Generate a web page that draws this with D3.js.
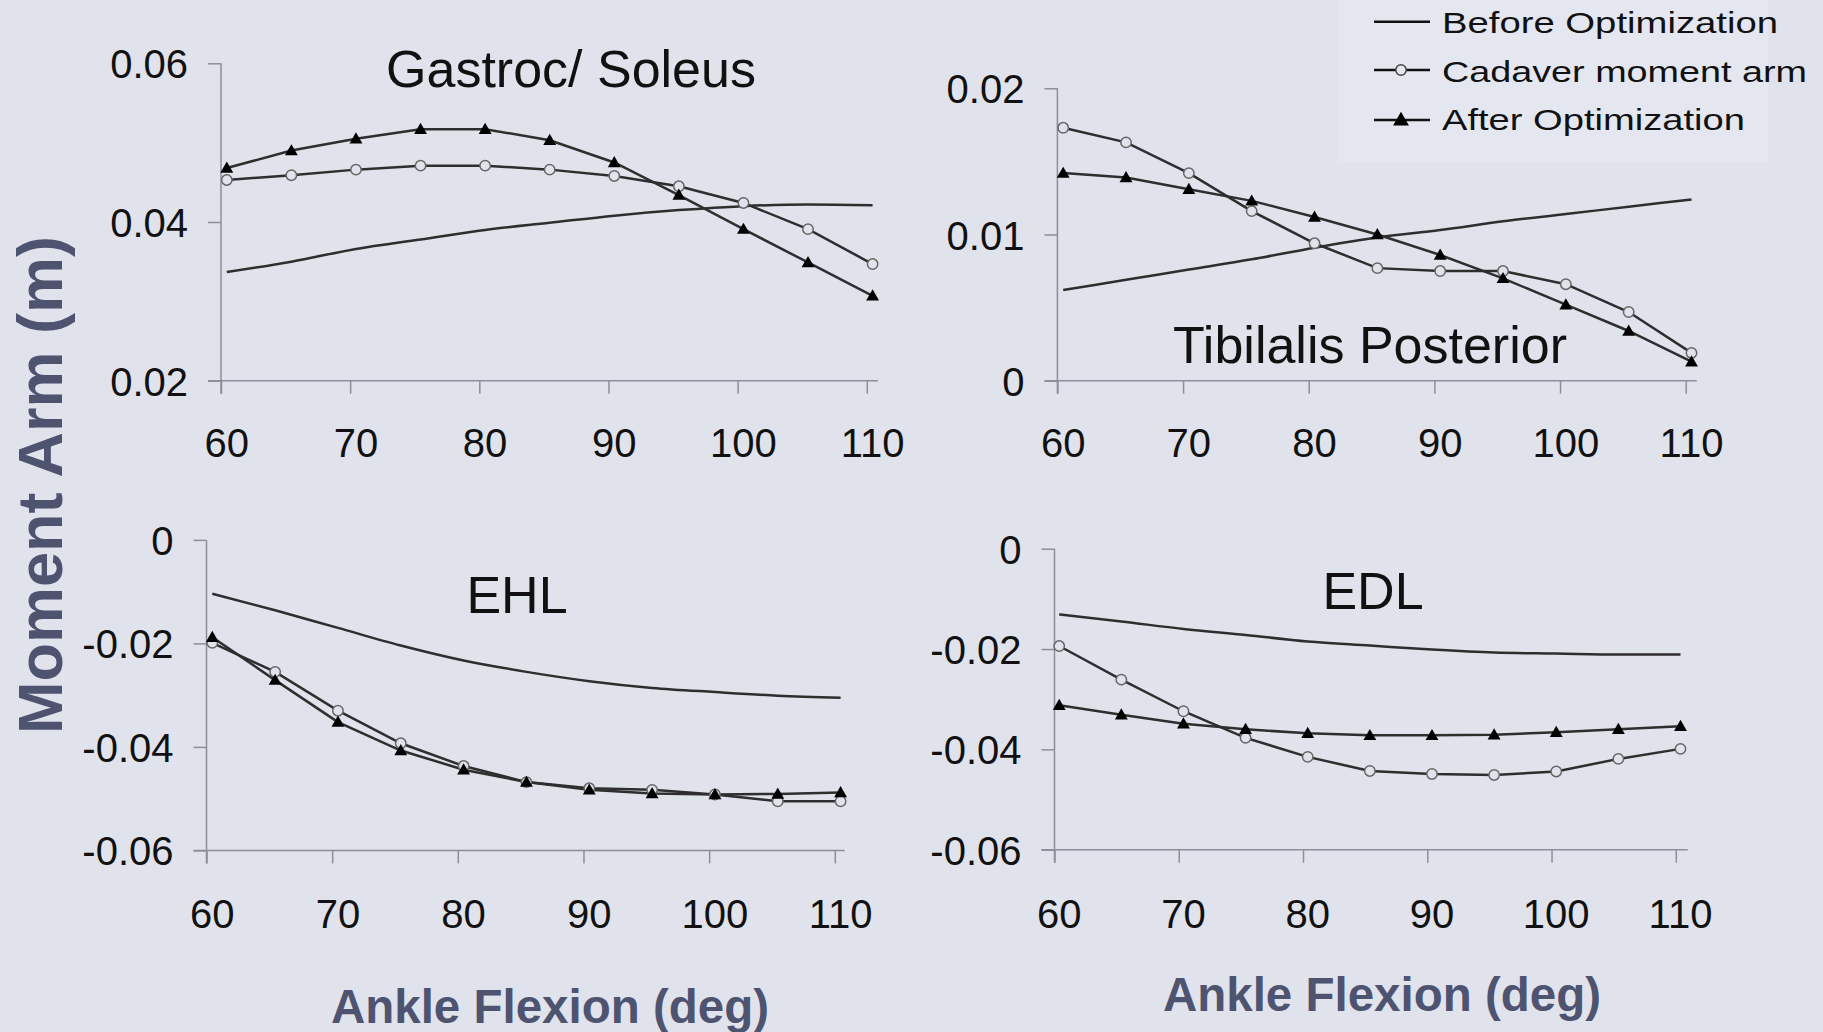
<!DOCTYPE html>
<html><head><meta charset="utf-8">
<script src="https://cdn.jsdelivr.net/npm/d3@7"></script>
<style>
html,body{margin:0;padding:0;background:#e1e3ec;}
svg{display:block;}
text{font-family:"Liberation Sans",Arial,sans-serif;}
</style></head>
<body>
<svg id="chart" width="1823" height="1032"></svg>
<script>
// ---------- data ----------
const angles = [60,65,70,75,80,85,90,95,100,105,110];
const xTickValues = [60,70,80,90,100,110];

const gastrocBefore  = [0.0337,0.0350,0.0366,0.0378,0.0390,0.0399,0.0408,0.0415,0.0420,0.0422,0.0421];
const gastrocCadaver = [0.0453,0.0459,0.0466,0.0471,0.0471,0.0466,0.0458,0.0445,0.0424,0.0391,0.0347];
const gastrocAfter   = [0.0468,0.0490,0.0505,0.0517,0.0517,0.0503,0.0475,0.0434,0.0391,0.0349,0.0307];

const tibBefore  = [0.0062,0.0069,0.0076,0.0083,0.0091,0.0098,0.0103,0.0109,0.0114,0.0119,0.0124];
const tibCadaver = [0.0173,0.0163,0.0142,0.0116,0.0094,0.0077,0.0075,0.0075,0.0066,0.0047,0.0019];
const tibAfter   = [0.0142,0.0139,0.0131,0.0123,0.0112,0.0100,0.0086,0.0070,0.0052,0.0034,0.0013];

const ehlBefore  = [-0.0104,-0.0136,-0.0170,-0.0204,-0.0233,-0.0255,-0.0273,-0.0286,-0.0294,-0.0301,-0.0305];
const ehlCadaver = [-0.0199,-0.0255,-0.0330,-0.0393,-0.0437,-0.0468,-0.0480,-0.0483,-0.0492,-0.0505,-0.0505];
const ehlAfter   = [-0.0188,-0.0271,-0.0352,-0.0407,-0.0444,-0.0468,-0.0483,-0.0490,-0.0492,-0.0491,-0.0488];

const edlBefore  = [-0.0131,-0.0145,-0.0160,-0.0172,-0.0185,-0.0193,-0.0201,-0.0207,-0.0209,-0.0211,-0.0211];
const edlCadaver = [-0.0194,-0.0261,-0.0324,-0.0377,-0.0415,-0.0443,-0.0449,-0.0451,-0.0444,-0.0419,-0.0399];
const edlAfter   = [-0.0312,-0.0331,-0.0349,-0.0360,-0.0368,-0.0372,-0.0372,-0.0371,-0.0366,-0.0360,-0.0354];

const gastrocYTicks = [0.02,0.04,0.06];
const gastrocYLabels = ["0.02","0.04","0.06"];
const tibYTicks = [0,0.01,0.02];
const tibYLabels = ["0","0.01","0.02"];
const extYTicks = [0,-0.02,-0.04,-0.06];
const extYLabels = ["0","-0.02","-0.04","-0.06"];

const legendLabels = ["Before Optimization","Cadaver moment arm","After Optimization"];
const panelTitles = ["Gastroc/ Soleus","Tibilalis Posterior","EHL","EDL"];
const xTitle = "Ankle Flexion (deg)";
const yTitle = "Moment Arm (m)";

// ---------- layout ----------
const panels = [
  {title:panelTitles[0], before:gastrocBefore, cadaver:gastrocCadaver, after:gastrocAfter,
   yDomain:[0.02,0.06], yTicks:gastrocYTicks, yLabels:gastrocYLabels,
   xL:221, xR:866.8, yB:380.7, yT:63.3, off:5.8, titleX:571, titleY:87, labY:457, axisExt:11},
  {title:panelTitles[1], before:tibBefore, cadaver:tibCadaver, after:tibAfter,
   yDomain:[0,0.02], yTicks:tibYTicks, yLabels:tibYLabels,
   xL:1057.4, xR:1685.7, yB:380.7, yT:88.3, off:5.8, titleX:1370, titleY:362.5, labY:457, axisExt:11},
  {title:panelTitles[2], before:ehlBefore, cadaver:ehlCadaver, after:ehlAfter,
   yDomain:[-0.06,0], yTicks:extYTicks, yLabels:extYLabels,
   xL:206.5, xR:834.8, yB:850.4, yT:539.9, off:5.8, titleX:517, titleY:612.5, labY:928, axisExt:10},
  {title:panelTitles[3], before:edlBefore, cadaver:edlCadaver, after:edlAfter,
   yDomain:[-0.06,0], yTicks:extYTicks, yLabels:extYLabels,
   xL:1054.5, xR:1675.8, yB:849.7, yT:548.7, off:4.7, titleX:1373, titleY:608.5, labY:928, axisExt:12}
];

const bg = "#e1e3ec";
const svg = d3.select("#chart");
svg.append("rect").attr("width",1823).attr("height",1032).attr("fill",bg);
// subtle legend panel
svg.append("rect").attr("x",1337).attr("y",0).attr("width",431).attr("height",163).attr("fill","#e5e7f0");

const axisColor = "#8c8f99";
const lineColor = "#2e2e2e";

panels.forEach(p => {
  const g = svg.append("g");
  const xAxisScale = d3.scaleLinear().domain([60,110]).range([p.xL, p.xR]);
  const x = d3.scaleLinear().domain([60,110]).range([p.xL + p.off, p.xR + p.off]);
  const y = d3.scaleLinear().domain(p.yDomain).range([p.yB, p.yT]);

  // x axis
  const xa = g.append("g").attr("transform",`translate(0,${p.yB})`)
    .call(d3.axisBottom(xAxisScale).tickValues(xTickValues).tickSize(13).tickSizeOuter(0).tickFormat(""));
  xa.select(".domain").remove();
  xa.selectAll(".tick line").attr("stroke",axisColor).attr("stroke-width",1.5);
  g.append("line").attr("x1",p.xL-13).attr("x2",p.xR+p.axisExt).attr("y1",p.yB).attr("y2",p.yB)
    .attr("stroke",axisColor).attr("stroke-width",1.5);

  // y axis
  const ya = g.append("g").attr("transform",`translate(${p.xL},0)`)
    .call(d3.axisLeft(y).tickValues(p.yTicks).tickSize(13).tickSizeOuter(0).tickFormat(""));
  ya.select(".domain").remove();
  ya.selectAll(".tick line").attr("stroke",axisColor).attr("stroke-width",1.5);
  g.append("line").attr("x1",p.xL).attr("x2",p.xL).attr("y1",p.yT).attr("y2",p.yB+13)
    .attr("stroke",axisColor).attr("stroke-width",1.5);

  // y tick labels
  g.selectAll(".ylab").data(p.yTicks).enter().append("text")
    .attr("x", p.xL - 33).attr("y", d => y(d) + 15)
    .attr("text-anchor","end").attr("font-size",40).attr("fill","#111")
    .text((d,i) => p.yLabels[i]);
  // x tick labels
  g.selectAll(".xlab").data(xTickValues).enter().append("text")
    .attr("x", d => x(d)).attr("y", p.labY)
    .attr("text-anchor","middle").attr("font-size",40).attr("fill","#111")
    .text(d => d);

  // title
  g.append("text").attr("x",p.titleX).attr("y",p.titleY).attr("text-anchor","middle")
    .attr("font-size",52).attr("fill","#111").text(p.title);

  // lines
  const pts = arr => arr.map((v,i)=>[angles[i], v]);
  const lin = d3.line().x(d=>x(d[0])).y(d=>y(d[1]));
  const smooth = d3.line().x(d=>x(d[0])).y(d=>y(d[1])).curve(d3.curveMonotoneX);

  g.append("path").attr("d",smooth(pts(p.before))).attr("fill","none")
    .attr("stroke",lineColor).attr("stroke-width",2.5);
  g.append("path").attr("d",lin(pts(p.cadaver))).attr("fill","none")
    .attr("stroke",lineColor).attr("stroke-width",2.5);
  g.append("path").attr("d",lin(pts(p.after))).attr("fill","none")
    .attr("stroke",lineColor).attr("stroke-width",2.5);

  g.selectAll(".circ").data(pts(p.cadaver)).enter().append("circle")
    .attr("cx",d=>x(d[0])).attr("cy",d=>y(d[1])).attr("r",5.2)
    .attr("fill",bg).attr("stroke","#666").attr("stroke-width",1.5);
  g.selectAll(".tri").data(pts(p.after)).enter().append("path")
    .attr("d", d3.symbol().type(d3.symbolTriangle).size(72))
    .attr("transform",d=>`translate(${x(d[0])},${y(d[1])+1})`)
    .attr("fill","#000");
});

// axis titles
const titleColor = "#4e5370";
svg.append("text").attr("x",550).attr("y",1023).attr("text-anchor","middle")
  .attr("font-size",47.5).attr("font-weight","bold").attr("fill",titleColor).text(xTitle);
svg.append("text").attr("x",1382).attr("y",1011).attr("text-anchor","middle")
  .attr("font-size",47.5).attr("font-weight","bold").attr("fill",titleColor).text(xTitle);
svg.append("text").attr("transform","translate(62,485) rotate(-90)").attr("text-anchor","middle")
  .attr("font-size",63).attr("font-weight","bold").attr("fill",titleColor).text(yTitle);

// legend
const legY = [21.7, 70, 120];
const legBase = [33, 81.7, 130];
const legLen = [336, 365, 303];
const lg = svg.append("g");
legendLabels.forEach((lab,i) => {
  lg.append("line").attr("x1",1374).attr("x2",1430).attr("y1",legY[i]).attr("y2",legY[i])
    .attr("stroke","#111").attr("stroke-width",2.5);
  lg.append("text").attr("x",1442).attr("y",legBase[i]).attr("font-size",30).attr("fill","#111")
    .attr("textLength",legLen[i]).attr("lengthAdjust","spacingAndGlyphs").text(lab);
});
lg.append("circle").attr("cx",1401).attr("cy",legY[1]).attr("r",5.2)
  .attr("fill","#e5e7f0").attr("stroke","#444").attr("stroke-width",1.5);
lg.append("path").attr("d",d3.symbol().type(d3.symbolTriangle).size(110))
  .attr("transform",`translate(1401,${legY[2]+1})`).attr("fill","#000");
</script>
</body></html>
